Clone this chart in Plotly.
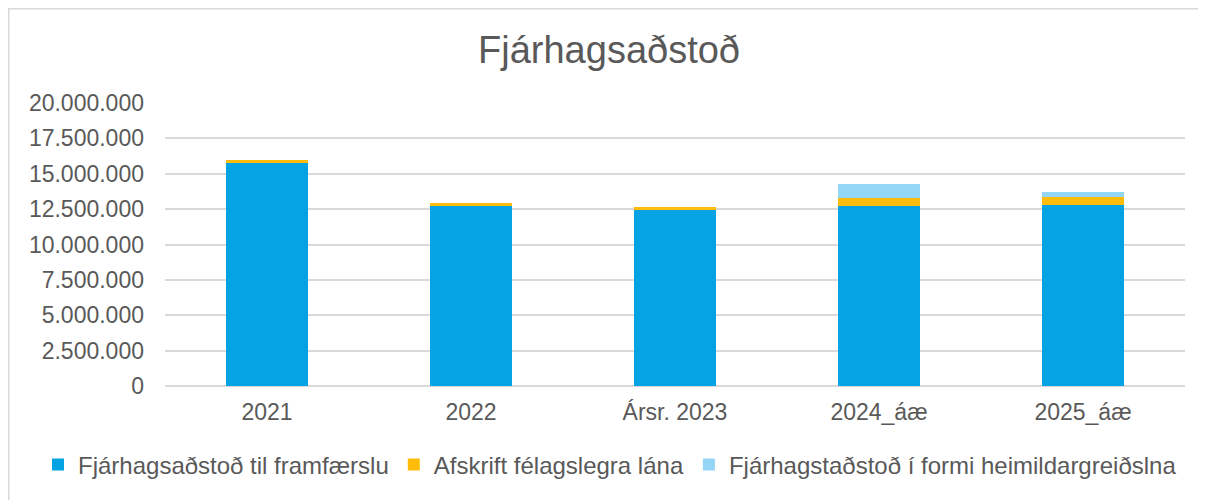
import plotly.graph_objects as go

categories = ["2021", "2022", "Ársr. 2023", "2024_áæ", "2025_áæ"]
framfaersla = [15760000, 12740000, 12440000, 12740000, 12790000]
afskrift = [230000, 190000, 190000, 570000, 590000]
heimild = [0, 0, 0, 940000, 330000]
tick_vals = [0, 2500000, 5000000, 7500000, 10000000, 12500000, 15000000, 17500000, 20000000]

series = [
    ("Fjárhagsaðstoð til framfærslu", framfaersla, "#05A3E4"),
    ("Afskrift félagslegra lána", afskrift, "#FFBC0A"),
    ("Fjárhagstaðstoð í formi heimildargreiðslna", heimild, "#93D6F6"),
]

# page body has an 8px margin; figure sized/offset to compensate
W, H = 1198, 492
L, R, T, B = 157, 21, 95, 114
PW = W - L - R
PH = H - T - B

fig = go.Figure()
for name, vals, col in series:
    fig.add_trace(go.Bar(x=categories, y=vals, name=name, marker_color=col,
                         marker_line_width=0, hoverinfo="y+name"))

fig.update_layout(
    width=W, height=H,
    barmode="stack", bargap=0.6,
    separators=",.",
    paper_bgcolor="white", plot_bgcolor="white",
    font=dict(family="Liberation Sans, Arial, sans-serif", color="#595959", size=23),
    title=dict(text="Fjárhagsaðstoð", x=601 / W, xanchor="center",
               y=1 - 42 / H, yanchor="middle",
               font=dict(size=38, color="#595959")),
    margin=dict(l=L, r=R, t=T, b=B, autoexpand=False),
    legend=dict(orientation="h", x=(30 - L) / PW, xanchor="left",
                y=(T + PH - 457) / PH, yanchor="middle",
                font=dict(size=24, color="#595959"), traceorder="normal",
                itemwidth=30, tracegroupgap=0, bgcolor="rgba(0,0,0,0)"),
    xaxis=dict(showgrid=False, showline=False, ticks="", ticklabelstandoff=10,
               tickfont=dict(size=23, color="#595959")),
    yaxis=dict(range=[0, 20000000], tickvals=tick_vals, tickformat=",d",
               showgrid=True, gridcolor="#D9D9D9", gridwidth=1.5, zeroline=True,
               zerolinecolor="#D9D9D9", zerolinewidth=1.5, ticklabelstandoff=20,
               tickfont=dict(size=23, color="#595959")),
    shapes=[dict(type="rect", xref="paper", yref="paper",
                 x0=(0.75 - L) / PW, x1=(W + 20 - L) / PW,
                 y0=(T + PH - (H + 20)) / PH, y1=(T + PH - 0.75) / PH,
                 line=dict(color="#D9D9D9", width=1.5), layer="below")],
)

fig.write_html("out.html")
